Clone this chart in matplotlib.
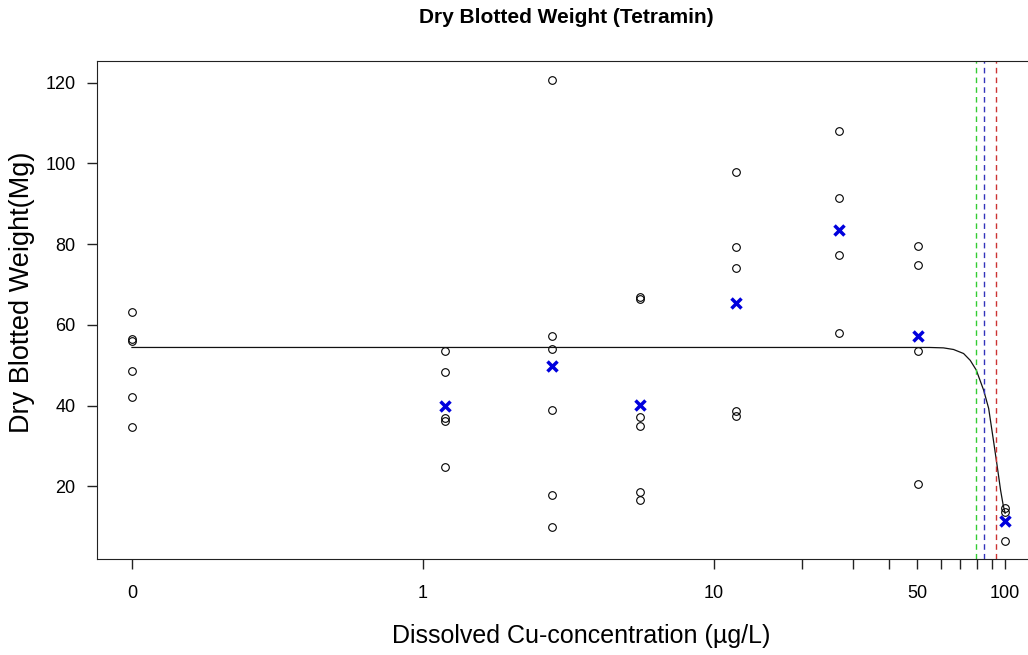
import numpy as np
import matplotlib
matplotlib.use('Agg')
import matplotlib.pyplot as plt

plt.rcParams['font.family'] = ['Liberation Sans', 'DejaVu Sans']

# control group (0 ug/L) is drawn at 0.1 on the log axis and labelled "0"
zero_pos = 0.1

conc = [0, 1.19, 2.77, 5.57, 11.9, 26.8, 50.4, 99.7]
weights = [
    [63.3, 56.5, 56.0, 48.6, 42.2, 34.7],
    [53.6, 48.3, 36.8, 36.2, 24.7],
    [120.8, 57.3, 54.0, 38.9, 17.9, 10.0],
    [67.0, 66.3, 37.2, 35.0, 18.7, 16.6],
    [97.8, 79.4, 74.2, 38.6, 37.3],
    [108.0, 91.4, 77.2, 58.0],
    [79.6, 74.8, 53.5, 20.5],
    [14.5, 13.6, 6.5],
]
mean_conc = [1.19, 2.77, 5.57, 11.9, 26.8, 50.4, 99.7]
mean_vals = [39.8, 49.8, 40.1, 65.4, 83.6, 57.2, 11.4]

# fitted dose-response curve
curve_x = [0.1, 50, 55, 61.4, 66.5, 72.0, 75.9, 79.6, 84.4, 87.8, 91.3, 93.8, 95.0, 96.5, 98.4, 100]
curve_y = [54.4, 54.4, 54.4, 54.3, 53.9, 52.9, 51.2, 48.8, 43.8, 39.3, 31.1, 25.3, 22.5, 19.0, 15.5, 13.3]

# effect concentrations (EC10, EC20, EC50)
ec_vals = [79.4, 84.3, 93.1]
ec_cols = ['#33CC33', '#3333BB', '#CC3333']

xtick_pos = [0.1, 1, 10, 20, 30, 40, 50, 60, 70, 80, 90, 100]
xtick_lab = ['0', '1', '10', '', '', '', '50', '', '', '', '', '100']
ytick_pos = [20, 40, 60, 80, 100, 120]

fig = plt.figure(figsize=(10.28, 6.55), dpi=100)
ax = fig.add_axes([0.0944, 0.1461, 0.9173, 0.7608])
ax.set_xscale('log')

for c, w in zip(conc, weights):
    xs = [zero_pos if c == 0 else c] * len(w)
    ax.plot(xs, w, 'o', mfc='none', mec='black', ms=5.5, mew=0.8)

ax.plot(curve_x, curve_y, color='#111111', lw=0.9)
ax.plot(mean_conc, mean_vals, 'x', color='#0000DD', ms=7.5, mew=2.5)

for v, col in zip(ec_vals, ec_cols):
    ax.axvline(v, color=col, lw=1, ls=(0, (4, 3)))

ax.set_xlim(10 ** -1.12, 10 ** 2.12)
ax.set_ylim(1.9, 125.4)
ax.set_xticks(xtick_pos)
ax.set_xticklabels(xtick_lab)
ax.xaxis.set_minor_locator(matplotlib.ticker.NullLocator())
ax.set_yticks(ytick_pos)
ax.tick_params(axis='both', direction='out', length=7.5, width=1, labelsize=13, color='#222222')
ax.tick_params(axis='x', pad=11)
ax.tick_params(axis='y', pad=8)
for s in ax.spines.values():
    s.set_color('#222222')

ax.set_xlabel('Dissolved Cu-concentration (µg/L)', fontsize=18, va='center')
ax.xaxis.set_label_coords(0.513, -0.154)
ax.set_ylabel('Dry Blotted Weight(Mg)', fontsize=19.5, va='center')
ax.yaxis.set_label_coords(-0.0795, 0.535)
ax.text(0.498, 1.088, 'Dry Blotted Weight (Tetramin)', transform=ax.transAxes,
        ha='center', va='center', fontsize=15, fontweight='bold')

fig.savefig('out.png', dpi=100)
